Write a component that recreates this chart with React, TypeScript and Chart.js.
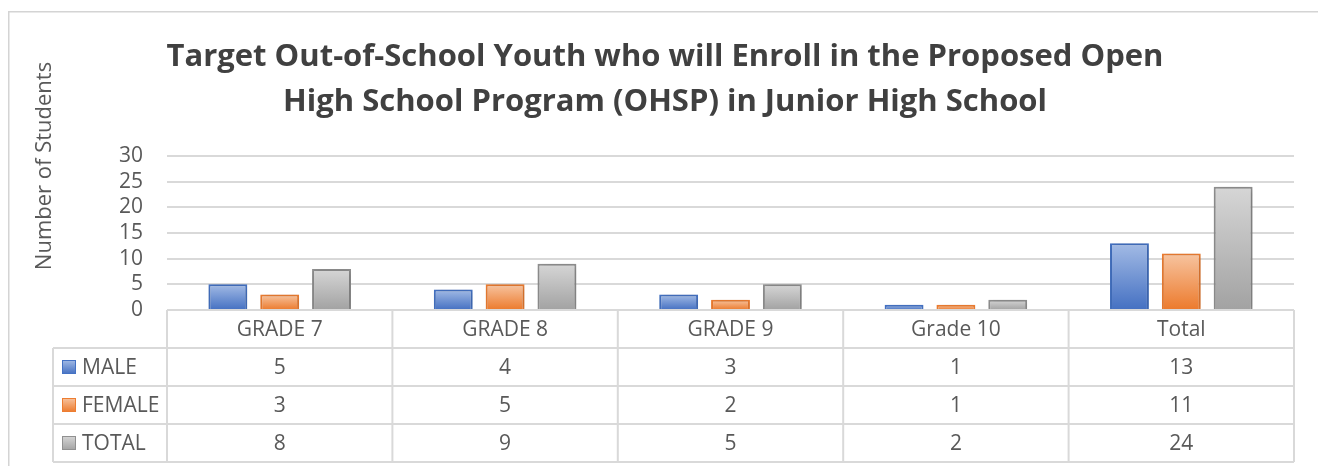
import React, { useEffect, useRef } from "react";
import { Chart, registerables } from "chart.js";

Chart.register(...registerables);

// ---------- data ----------
const categories = ["GRADE 7", "GRADE 8", "GRADE 9", "Grade 10", "Total"];
const seriesNames = ["MALE", "FEMALE", "TOTAL"];
const maleValues = [5, 4, 3, 1, 13];
const femaleValues = [3, 5, 2, 1, 11];
const totalValues = [8, 9, 5, 2, 24];
const yMin = 0;
const yMax = 30;
const yStep = 5;
const titleLines = [
  "Target Out-of-School Youth who will Enroll in the Proposed Open",
  "High School Program (OHSP) in Junior High School",
];
const yAxisTitle = "Number of Students";

// ---------- styles ----------
const FONT = "'Open Sans', 'Noto Sans', sans-serif";
const TEXT = "#595959";
const LINE = "#d9d9d9";
const palette = [
  { top: "#a3bbe5", bottom: "#4470c2", border: "#4472c4" },
  { top: "#f7c4a0", bottom: "#ec7a2c", border: "#ed7d31" },
  { top: "#d6d6d6", bottom: "#a2a2a2", border: "#909090" },
];

function barFill(top: string, bottom: string) {
  return (ctx: any) => {
    const chart = ctx.chart;
    const ys = chart.scales && chart.scales.y;
    if (ctx.type !== "data" || !ys || ctx.raw == null) return bottom;
    const yTop = ys.getPixelForValue(ctx.raw);
    const yBase = ys.getPixelForValue(0);
    if (!isFinite(yTop) || !isFinite(yBase) || yTop === yBase) return bottom;
    const g = chart.ctx.createLinearGradient(0, yTop, 0, yBase);
    g.addColorStop(0, top);
    g.addColorStop(1, bottom);
    return g;
  };
}

const frameAndAxisTitle = {
  id: "frameAndAxisTitle",
  beforeDraw(chart: any) {
    const ctx = chart.ctx;
    ctx.save();
    ctx.strokeStyle = "#d4d4d4";
    ctx.lineWidth = 1.5;
    ctx.beginPath();
    ctx.moveTo(8.75, chart.height);
    ctx.lineTo(8.75, 11.75);
    ctx.lineTo(chart.width, 11.75);
    ctx.stroke();
    ctx.restore();
  },
  afterDraw(chart: any) {
    const ctx = chart.ctx;
    ctx.save();
    ctx.translate(45, 166);
    ctx.rotate(-Math.PI / 2);
    ctx.font = `22px ${FONT}`;
    ctx.fillStyle = TEXT;
    ctx.textAlign = "center";
    ctx.textBaseline = "middle";
    ctx.fillText(yAxisTitle, 0, 0);
    ctx.restore();
  },
};

const barShadow = {
  id: "barShadow",
  beforeDatasetsDraw(chart: any) {
    const ctx = chart.ctx;
    ctx.save();
    ctx.shadowColor = "rgba(0,0,0,0.22)";
    ctx.shadowBlur = 6;
    ctx.shadowOffsetX = 1;
    ctx.shadowOffsetY = 1;
  },
  afterDatasetsDraw(chart: any) {
    chart.ctx.restore();
  },
};

const dataTable = {
  id: "dataTable",
  afterDraw(chart: any) {
    const ctx = chart.ctx;
    const area = chart.chartArea;
    const xs = chart.scales.x;
    const n = categories.length;
    const colW = (area.right - area.left) / n;
    const rowH = 38;
    const top = area.bottom;
    const legendLeft = 53;
    const rows = [maleValues, femaleValues, totalValues];
    const bottom = top + rowH * (rows.length + 1);

    ctx.save();
    ctx.strokeStyle = LINE;
    ctx.lineWidth = 2;
    ctx.beginPath();
    ctx.moveTo(area.left, top);
    ctx.lineTo(area.right, top);
    for (let r = 1; r <= rows.length + 1; r++) {
      const y = top + rowH * r;
      ctx.moveTo(legendLeft, y);
      ctx.lineTo(area.right, y);
    }
    for (let c = 0; c <= n; c++) {
      const x = area.left + colW * c;
      ctx.moveTo(x, top);
      ctx.lineTo(x, bottom);
    }
    ctx.moveTo(legendLeft, top + rowH);
    ctx.lineTo(legendLeft, bottom);
    ctx.stroke();

    ctx.font = `21px ${FONT}`;
    ctx.fillStyle = TEXT;
    ctx.textBaseline = "middle";
    ctx.textAlign = "center";
    categories.forEach((cat, i) => {
      ctx.fillText(cat, xs.getPixelForValue(i), top + rowH / 2 + 1);
    });
    rows.forEach((vals, r) => {
      const yMid = top + rowH * (r + 1) + rowH / 2 + 1;
      vals.forEach((v, i) => {
        ctx.fillText(String(v), xs.getPixelForValue(i), yMid);
      });
    });
    rows.forEach((_, r) => {
      const yMid = top + rowH * (r + 1) + rowH / 2;
      const p = palette[r];
      const kx = 62;
      const ks = 14;
      const ky = Math.round(yMid - ks / 2);
      const g = ctx.createLinearGradient(0, ky, 0, ky + ks);
      g.addColorStop(0, p.top);
      g.addColorStop(1, p.bottom);
      ctx.fillStyle = g;
      ctx.fillRect(kx, ky, ks, ks);
      ctx.strokeStyle = p.border;
      ctx.lineWidth = 1;
      ctx.strokeRect(kx + 0.5, ky + 0.5, ks - 1, ks - 1);
      ctx.fillStyle = TEXT;
      ctx.textAlign = "left";
      ctx.fillText(seriesNames[r], 82, yMid + 1);
    });
    ctx.restore();
  },
};

export default function App() {
  const canvasRef = useRef<HTMLCanvasElement | null>(null);

  useEffect(() => {
    const canvas = canvasRef.current;
    if (!canvas) return;
    const seriesValues = [maleValues, femaleValues, totalValues];
    const chart = new Chart(canvas, {
      type: "bar",
      data: {
        labels: categories,
        datasets: seriesNames.map((name, i) => ({
          label: name,
          data: seriesValues[i],
          backgroundColor: barFill(palette[i].top, palette[i].bottom),
          borderColor: palette[i].border,
          borderWidth: 2,
          borderSkipped: "bottom" as const,
          categoryPercentage: 0.69,
          barPercentage: 0.75,
        })),
      },
      options: {
        responsive: false,
        animation: false,
        devicePixelRatio: 1,
        layout: { padding: { left: 36, right: 24, top: 0, bottom: 156 } },
        plugins: {
          legend: { display: false },
          tooltip: { enabled: false },
          title: {
            display: true,
            text: titleLines,
            color: "#404040",
            font: { family: FONT, size: 31, weight: "bold", lineHeight: 1.4516 },
            padding: { top: 35, bottom: 31 },
          },
        },
        scales: {
          x: {
            type: "category",
            display: false,
            offset: true,
          },
          y: {
            min: yMin,
            max: yMax,
            ticks: {
              stepSize: yStep,
              autoSkip: false,
              padding: 24,
              color: TEXT,
              font: { family: FONT, size: 21 },
            },
            grid: { color: LINE, lineWidth: 2, drawTicks: false },
            border: { display: false },
            afterFit: (scale: any) => {
              scale.width = 131;
            },
          },
        },
      },
      plugins: [frameAndAxisTitle, barShadow, dataTable],
    });
    return () => chart.destroy();
  }, []);

  return (
    <div style={{ position: "fixed", left: 0, top: 0, width: 1318, height: 466, background: "#fff" }}>
      <canvas ref={canvasRef} width={1318} height={466} style={{ display: "block" }} />
    </div>
  );
}
